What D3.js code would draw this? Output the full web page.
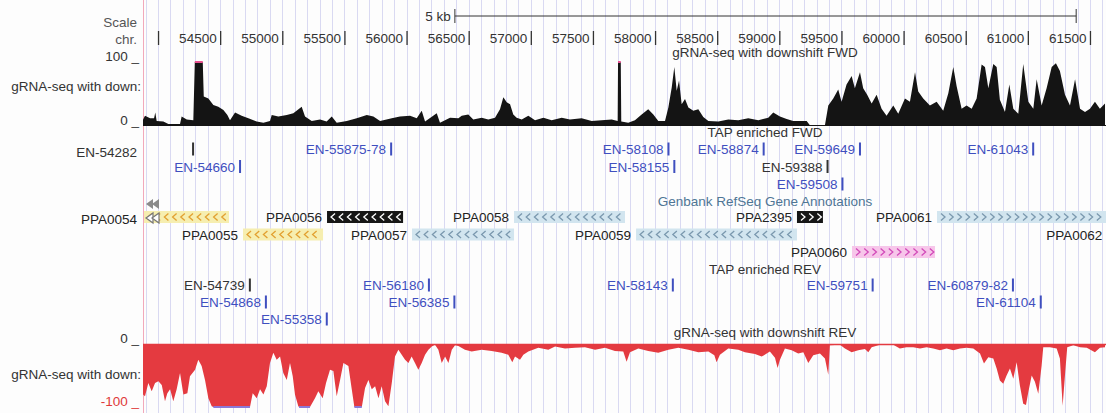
<!DOCTYPE html>
<html><head><meta charset="utf-8">
<script src="https://cdn.jsdelivr.net/npm/d3@7"></script>
<style>
body{margin:0;background:#fdfdfd;}
svg{display:block;}
text{font-family:"Liberation Sans",Arial,Helvetica,sans-serif;font-size:13.5px;}
</style>
</head><body>
<svg id="c" width="1106" height="413"></svg>
<script>
// ---------------- DATA ----------------
const viewStart = 53879, viewEnd = 61629;      // genomic window shown
const viewCenterBp = 58889;                     // centre of the original browser window
const scaleBarBp = 5000;
const scaleBarLabel = "5 kb";
const tickPositions = [54000,54500,55000,55500,56000,56500,57000,57500,58000,58500,59000,59500,60000,60500,61000,61500];
const tickLabels    = ["","54500","55000","55500","56000","56500","57000","57500","58000","58500","59000","59500","60000","60500","61000","61500"];

const fwdTitle = "gRNA-seq with downshift FWD";
const revTitle = "gRNA-seq with downshift REV";
const tapFwdTitle = "TAP enriched FWD";
const tapRevTitle = "TAP enriched REV";
const geneTitle = "Genbank RefSeq Gene Annotations";

// [position (bp), coverage] FWD strand, scale 0..100
const fwdCoverage = [[53877,9],[53895,16],[53936,12],[53968,12],[53978,21],[53989,8],[54043,7],[54083,3],[54177,3],[54190,15],[54231,10],[54284,9],[54296,100],[54360,100],[54368,46],[54405,43],[54445,33],[54485,30],[54526,25],[54558,17],[54579,9],[54620,21],[54673,16],[54727,12],[54794,7],[54848,5],[54901,8],[54915,17],[54968,15],[55036,17],[55089,20],[55156,30],[55183,15],[55237,8],[55304,10],[55357,7],[55398,15],[55438,5],[55519,8],[55599,12],[55680,17],[55733,15],[55787,8],[55881,12],[55947,15],[56028,16],[56082,12],[56122,24],[56149,7],[56243,20],[56269,5],[56350,13],[56417,12],[56444,16],[56497,18],[56537,10],[56605,13],[56658,10],[56712,13],[56752,26],[56779,45],[56806,37],[56833,34],[56859,18],[56886,13],[56927,10],[56980,16],[57034,9],[57101,13],[57168,9],[57249,13],[57315,10],[57409,12],[57490,8],[57570,9],[57651,10],[57699,8],[57702,100],[57724,100],[57728,7],[57784,5],[57838,9],[57892,18],[57945,26],[57986,18],[58026,8],[58080,8],[58107,29],[58134,60],[58155,92],[58174,55],[58193,71],[58214,34],[58241,42],[58268,29],[58308,24],[58348,26],[58388,14],[58429,8],[58509,7],[58589,10],[58670,9],[58750,12],[58831,9],[58911,13],[58951,21],[59005,15],[59059,11],[59112,8],[59220,8],[59246,1],[59367,1],[59394,32],[59434,43],[59474,57],[59501,38],[59541,65],[59582,78],[59608,59],[59649,84],[59675,59],[59707,49],[59743,35],[59783,49],[59823,27],[59863,16],[59917,32],[59957,19],[60011,43],[60051,38],[60092,84],[60118,54],[60158,43],[60212,32],[60266,38],[60319,24],[60360,51],[60400,92],[60427,62],[60467,27],[60507,32],[60548,27],[60588,43],[60628,96],[60655,92],[60682,59],[60722,97],[60749,92],[60775,41],[60816,22],[60851,65],[60883,27],[60923,19],[60963,97],[61004,38],[61044,27],[61071,73],[61111,32],[61151,59],[61192,92],[61226,98],[61258,86],[61299,49],[61339,32],[61380,73],[61420,27],[61460,22],[61500,27],[61540,38],[61580,27],[61621,35]];

// [position (bp), coverage] REV strand, scale 0..-100
const revCoverage = [[53877,-80],[53895,-83],[53922,-62],[53949,-75],[53976,-62],[54003,-59],[54030,-65],[54056,-91],[54075,-78],[54097,-72],[54123,-91],[54150,-72],[54177,-46],[54204,-80],[54236,-78],[54257,-51],[54298,-41],[54324,-25],[54351,-35],[54378,-57],[54405,-86],[54432,-99],[54445,-100],[54740,-100],[54762,-78],[54794,-86],[54821,-72],[54848,-80],[54875,-67],[54901,-30],[54928,-14],[54955,-25],[54982,-20],[55008,-46],[55036,-57],[55062,-30],[55084,-51],[55102,-80],[55129,-99],[55135,-100],[55223,-100],[55263,-86],[55290,-75],[55325,-86],[55352,-62],[55384,-41],[55411,-43],[55438,-83],[55465,-57],[55492,-30],[55532,-35],[55559,-72],[55580,-100],[55640,-100],[55666,-70],[55693,-57],[55720,-72],[55747,-67],[55774,-86],[55800,-67],[55827,-91],[55854,-99],[55881,-62],[55907,-20],[55934,-9],[55961,-17],[55988,-25],[56015,-30],[56041,-20],[56068,-30],[56095,-41],[56122,-30],[56149,-17],[56176,-9],[56203,-4],[56229,-1],[56256,-9],[56283,-30],[56310,-20],[56337,-30],[56364,-9],[56390,-2],[56417,-3],[56470,-9],[56524,-12],[56605,-9],[56685,-11],[56765,-14],[56819,-17],[56851,-29],[56873,-20],[56913,-25],[56940,-17],[56980,-12],[57060,-6],[57141,-9],[57195,-4],[57275,-7],[57356,-6],[57436,-5],[57517,-9],[57597,-6],[57677,-11],[57744,-12],[57771,-28],[57798,-13],[57865,-7],[57945,-11],[58026,-14],[58107,-9],[58187,-6],[58268,-9],[58348,-13],[58429,-12],[58477,-18],[58495,-29],[58522,-17],[58589,-7],[58670,-9],[58723,-13],[58804,-16],[58858,-20],[58924,-12],[58965,-22],[58986,-38],[59005,-25],[59045,-7],[59099,-10],[59152,-15],[59193,-13],[59233,-30],[59273,-18],[59327,-15],[59367,-23],[59394,-49],[59407,-2],[59488,-1],[59528,-7],[59582,-13],[59635,-10],[59689,-8],[59716,-13],[59743,-5],[59810,-1],[59917,-1],[59970,-7],[60024,-5],[60078,-5],[60132,-7],[60185,-5],[60239,-7],[60293,-10],[60346,-7],[60400,-10],[60454,-7],[60507,-6],[60561,-7],[60615,-15],[60647,-31],[60682,-21],[60722,-23],[60749,-39],[60775,-58],[60802,-63],[60829,-50],[60856,-39],[60883,-55],[60910,-29],[60936,-66],[60963,-95],[60985,-97],[61004,-76],[61031,-50],[61057,-60],[61084,-79],[61111,-34],[61124,-5],[61178,-5],[61232,-7],[61258,-23],[61280,-98],[61301,-44],[61317,-5],[61366,-2],[61420,-5],[61474,-6],[61540,-13],[61580,-6],[61621,-5]];

// TAP enriched sites: name, position, packing lane
const tapFwdNames = ["EN-54282","EN-54660","EN-55875-78","EN-58108","EN-58155","EN-58874","EN-59388","EN-59508","EN-59649","EN-61043"];
const tapFwdPos   = [54282,54660,55876,58108,58155,58874,59388,59508,59649,61043];
const tapFwdLane  = [0,1,0,0,1,0,1,2,0,0];
const tapRevNames = ["EN-54739","EN-54868","EN-55358","EN-56180","EN-56385","EN-58143","EN-59751","EN-60879-82","EN-61104"];
const tapRevPos   = [54739,54868,55358,56180,56385,58143,59751,60880,61104];
const tapRevLane  = [0,1,2,0,1,0,0,0,1];

// Genbank RefSeq genes
const geneNames  = ["PPA0054","PPA0055","PPA0056","PPA0057","PPA0058","PPA0059","PPA2395","PPA0060","PPA0061","PPA0062"];
const geneStart  = [53700,54684,55360,56044,56865,57847,59142,59585,60269,61640];
const geneEnd    = [54571,55328,55972,56865,57758,59142,59351,60253,62200,62600];
const geneStrand = ["-","-","-","-","-","-","+","+","+","+"];
const geneLane   = [0,1,0,1,0,1,0,2,0,1];

// ---------------- STYLE / LAYOUT ----------------
const W = 1106, H = 413;
const dataLeft = 143, dataRight = 1106, marginRight = 137;
const titleX = 765;
const fwdTop = 62, fwdBase = 126;
const revZero = 344, revBottom = 407;
const tapFwdTitleY = 132, tapFwdRows = [149, 166.5, 184];
const geneTitleY = 201.5, geneRows = [217, 234.5, 252];
const tapRevTitleY = 269, tapRevRows = [285, 302, 319];
const revTitleY = 332;
const darkItems = ["EN-54282","EN-59388","EN-54739"];
const geneStyle = {
  PPA0054:"yellow",PPA0055:"yellow",PPA0056:"black",PPA0057:"blue",PPA0058:"blue",
  PPA0059:"blue",PPA2395:"black",PPA0060:"pink",PPA0061:"blue",PPA0062:"blue"};
const palette = {
  yellow:{fill:"#f6eeb0",chev:"#e2a030"},
  blue:{fill:"#d2e5ef",chev:"#7a98ae"},
  black:{fill:"#161616",chev:"#ffffff"},
  pink:{fill:"#f7c6ea",chev:"#d24ab9"}};
const textDark = "#333", textBlue = "#3f4fbf";

// ---------------- DRAW ----------------
const svg = d3.select("#c");
const x = d3.scaleLinear().domain([viewStart, viewEnd]).range([dataLeft, dataRight]);
const yF = d3.scaleLinear().domain([0,100]).range([fwdBase, fwdTop]);
const yR = d3.scaleLinear().domain([0,-100]).range([revZero, revBottom]);

svg.append("rect").attr("width",W).attr("height",H).attr("fill","#fdfdfd");
svg.append("defs").append("clipPath").attr("id","dclip")
  .append("rect").attr("x",dataLeft).attr("y",0).attr("width",dataRight-dataLeft).attr("height",H);

// guidelines every 100 bp
const gridBp = d3.range(Math.ceil(viewStart/100)*100, viewEnd, 100);
svg.append("g").selectAll("line").data(gridBp).join("line")
  .attr("x1",d=>Math.round(x(d))+0.5).attr("x2",d=>Math.round(x(d))+0.5)
  .attr("y1",0).attr("y2",H).attr("stroke","#d9d9f2").attr("stroke-width",1);
svg.append("line").attr("x1",dataLeft+0.5).attr("x2",dataLeft+0.5).attr("y1",0).attr("y2",H)
  .attr("stroke","#f2a9bb").attr("stroke-width",1);

const dataG = svg.append("g").attr("clip-path","url(#dclip)");

// scale bar
const sb0 = x(viewCenterBp - scaleBarBp/2), sb1 = x(viewCenterBp + scaleBarBp/2);
dataG.append("line").attr("x1",sb0).attr("x2",sb1).attr("y1",16).attr("y2",16).attr("stroke","#333");
[sb0,sb1].forEach(v=>dataG.append("line").attr("x1",v).attr("x2",v).attr("y1",9).attr("y2",23).attr("stroke","#333"));
svg.append("text").attr("x",sb0-4).attr("y",21).attr("text-anchor","end").attr("fill",textDark).text(scaleBarLabel);
svg.append("text").attr("x",marginRight).attr("y",27).attr("text-anchor","end").attr("fill","#555").text("Scale");
svg.append("text").attr("x",marginRight).attr("y",44).attr("text-anchor","end").attr("fill","#555").text("chr.");

// chromosome axis
const axisG = dataG.append("g").attr("transform","translate(0,31)")
  .call(d3.axisBottom(x).tickValues(tickPositions).tickSizeInner(14).tickSizeOuter(0)
        .tickFormat((d,i)=>tickLabels[i]));
axisG.select(".domain").remove();
axisG.selectAll(".tick line").attr("stroke","#333").attr("stroke-width",1.3);
axisG.selectAll(".tick text").attr("text-anchor","end").attr("x",-4).attr("y",12).attr("dy",0)
  .attr("fill",textDark).style("font-size","13.5px").style("font-family","'Liberation Sans',Arial,sans-serif");

// FWD coverage
dataG.append("path").datum(fwdCoverage)
  .attr("d", d3.area().x(d=>x(d[0])).y0(yF(0)).y1(d=>yF(d[1])))
  .attr("fill","#141414");
dataG.append("line").attr("x1",dataLeft).attr("x2",dataRight).attr("y1",yF(0)-0.5).attr("y2",yF(0)-0.5).attr("stroke","#141414");
// clipping caps
function caps(series, lim){
  const out=[];
  for(let i=0;i<series.length-1;i++) if(series[i][1]===lim && series[i+1][1]===lim) out.push([series[i][0],series[i+1][0]]);
  return out;
}
dataG.selectAll(".fcap").data(caps(fwdCoverage,100)).join("line")
  .attr("x1",d=>x(d[0])).attr("x2",d=>x(d[1])).attr("y1",yF(100)).attr("y2",yF(100))
  .attr("stroke","#e8508f").attr("stroke-width",2);

svg.append("text").attr("x",titleX).attr("y",57).attr("text-anchor","middle").attr("fill",textDark).text(fwdTitle);
svg.append("text").attr("x",139).attr("y",61).attr("text-anchor","end").attr("fill",textDark).text("100 _");
svg.append("text").attr("x",139).attr("y",125).attr("text-anchor","end").attr("fill",textDark).text("0 _");
svg.append("text").attr("x",141).attr("y",91).attr("text-anchor","end").attr("fill",textDark).text("gRNA-seq with down:");

// TAP items
function drawTap(names,pos,lanes,rows,titleY,title){
  svg.append("text").attr("x",titleX).attr("y",titleY+4.5).attr("text-anchor","middle").attr("fill",textDark).text(title);
  names.forEach((n,i)=>{
    const px = x(pos[i]), cy = rows[lanes[i]];
    const col = darkItems.includes(n) ? textDark : textBlue;
    dataG.append("rect").attr("x",px-1).attr("y",cy-6.5).attr("width",2).attr("height",13).attr("fill",col);
    const t = svg.append("text").attr("text-anchor","end").attr("fill",col).text(n);
    t.attr("x",px-5).attr("y",cy+5);
    const w = t.node().getComputedTextLength();
    if (px-5-w < dataLeft) t.attr("x",marginRight).attr("y",cy+8);
  });
}
drawTap(tapFwdNames,tapFwdPos,tapFwdLane,tapFwdRows,tapFwdTitleY,tapFwdTitle);

// Genes
svg.append("text").attr("x",titleX).attr("y",geneTitleY+4.5).attr("text-anchor","middle").attr("fill","#4f7695").text(geneTitle);
geneNames.forEach((n,i)=>{
  const cy = geneRows[geneLane[i]];
  const st = palette[geneStyle[n]];
  const xs = Math.max(x(geneStart[i]), dataLeft+1), xe = Math.min(x(geneEnd[i]), dataRight);
  if (xe > xs) {
    dataG.append("rect").attr("x",xs).attr("y",cy-6).attr("width",xe-xs).attr("height",12).attr("fill",st.fill);
    const chev = d3.range(xs+6, xe-3, 8.2);
    dataG.selectAll(null).data(chev).join("path")
      .attr("d",c=> geneStrand[i]==="-" ? `M${c+2},${cy-3.5}L${c-2},${cy}L${c+2},${cy+3.5}` : `M${c-2},${cy-3.5}L${c+2},${cy}L${c-2},${cy+3.5}`)
      .attr("fill","none").attr("stroke",st.chev).attr("stroke-width",1.3);
  }
  const t = svg.append("text").attr("text-anchor","end").attr("fill","#222").text(n);
  let lx = x(geneStart[i]) - 5;
  if (lx > dataRight-2) lx = dataRight-2;
  t.attr("x",lx).attr("y",cy+5);
  const w = t.node().getComputedTextLength();
  if (x(geneStart[i]) < dataLeft || lx - w < dataLeft) {
    t.attr("x",marginRight).attr("y",cy+7);
    // overflow markers at the left edge
    const yy = cy - 13;
    [dataLeft+3, dataLeft+9].forEach(ax=>{
      svg.append("path").attr("d",`M${ax},${yy}L${ax+7},${yy-5}L${ax+7},${yy+5}Z`).attr("fill","#8a8a8a");
      svg.append("path").attr("d",`M${ax},${cy+1}L${ax+7},${cy-4}L${ax+7},${cy+6}Z`).attr("fill","#fff").attr("stroke","#777").attr("stroke-width",1.2);
    });
  }
});

drawTap(tapRevNames,tapRevPos,tapRevLane,tapRevRows,tapRevTitleY,tapRevTitle);

// REV coverage
dataG.append("path").datum(revCoverage)
  .attr("d", d3.area().x(d=>x(d[0])).y0(yR(0)).y1(d=>yR(d[1])))
  .attr("fill","#e43a40");
dataG.append("line").attr("x1",dataLeft).attr("x2",dataRight).attr("y1",yR(0)+0.5).attr("y2",yR(0)+0.5).attr("stroke","#e43a40").attr("stroke-width",1.5);
dataG.selectAll(".rcap").data(caps(revCoverage,-100)).join("line")
  .attr("x1",d=>x(d[0])).attr("x2",d=>x(d[1])).attr("y1",yR(-100)).attr("y2",yR(-100))
  .attr("stroke","#8d78d6").attr("stroke-width",2);
svg.append("text").attr("x",titleX).attr("y",revTitleY+4.5).attr("text-anchor","middle").attr("fill",textDark).text(revTitle);
svg.append("text").attr("x",139).attr("y",343).attr("text-anchor","end").attr("fill",textDark).text("0 _");
svg.append("text").attr("x",139).attr("y",406).attr("text-anchor","end").attr("fill","#e03a3a").text("-100 _");
svg.append("text").attr("x",141).attr("y",379).attr("text-anchor","end").attr("fill",textDark).text("gRNA-seq with down:");
</script>
</body></html>
